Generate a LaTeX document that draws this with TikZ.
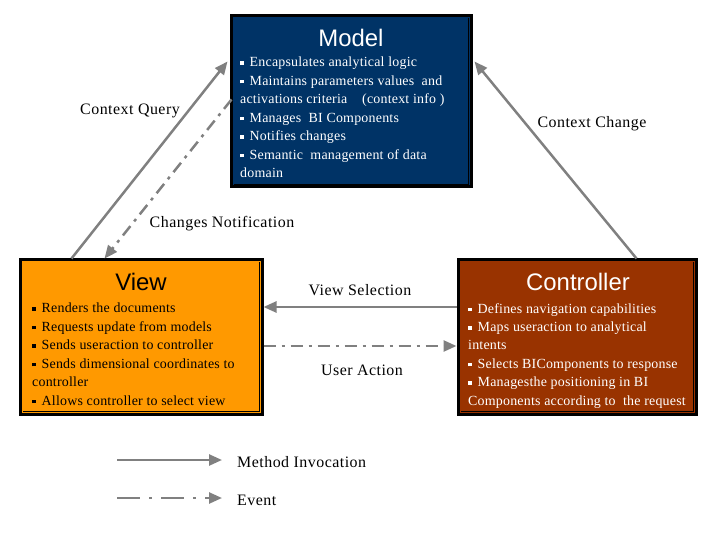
\documentclass[tikz,border=0pt]{standalone}
\usepackage{fontspec}
\setmainfont{Liberation Serif}
\newfontfamily\mvctitlefont{Liberation Sans}
\newfontfamily\mvcbodyfont[LetterSpace=1.5]{Liberation Serif}
\newfontfamily\mvclabelfont[LetterSpace=3]{Liberation Serif}
\usetikzlibrary{arrows.meta}
\definecolor{modelblue}{RGB}{0,51,102}
\definecolor{vieworange}{RGB}{255,153,0}
\definecolor{ctrlbrown}{RGB}{153,51,0}
\definecolor{linkgray}{RGB}{128,128,128}
\newcommand{\mvcbullet}{\rule[0.3ex]{3.5bp}{3.5bp}\hspace{6bp}}
\newcommand{\mvcbodysize}{\mvcbodyfont\fontsize{14}{18.5}\selectfont}
\newcommand{\mvclabelsize}{\mvclabelfont\fontsize{16}{19}\selectfont}
\newcommand{\mvctitlesize}{\fontsize{24}{28}\selectfont}

\begin{document}
\begin{tikzpicture}[x=1bp,y=-1bp,
    mvcbox/.style={draw=black,line width=3bp,inner sep=0},
    mvctitle/.style={font=\mvctitlefont\mvctitlesize,inner sep=0},
    mvcbody/.style={font=\mvcbodysize,align=left,inner sep=0,anchor=north west},
    label/.style={font=\mvclabelsize,inner sep=0},
    invoke/.style={draw=linkgray,line width=2.5bp,-{Triangle[length=13bp,width=11bp]}},
    event/.style={invoke,dash pattern=on 12bp off 6bp on 3bp off 6bp}]
  \useasboundingbox (0,0) rectangle (720,540);
  \node[mvcbox,fill=modelblue,minimum width=240bp,minimum height=171bp] (Model) at (351,101.5) {};
  \node[mvcbox,fill=vieworange,minimum width=241bp,minimum height=154bp] (View) at (141.5,337) {};
  \node[mvcbox,fill=ctrlbrown,minimum width=238bp,minimum height=154bp] (Controller) at (577,337) {};
  \foreach \b in {Model,View,Controller}
    \draw[black,line width=0.8bp] ([shift={(-4,4)}]\b.north east) -- ([shift={(-4,-4)}]\b.south east) -- ([shift={(4,-4)}]\b.south west);
  \node[mvctitle,text=white] (ModelTitle) at (351,38) {Model};
  \node[mvctitle,text=black] (ViewTitle) at (141,282) {View};
  \node[mvctitle,text=white] (ControllerTitle) at (578,282) {Controller};
  \node[mvcbody,text=white] (ModelText) at (240,57) {\mvcbullet Encapsulates analytical logic\\
    \mvcbullet Maintains parameters values\ \ and\\
    activations criteria\ \ \ \ (context info )\\
    \mvcbullet Manages\ \ BI Components\\
    \mvcbullet Notifies changes\\
    \mvcbullet Semantic\ \ management of data\\
    domain};
  \node[mvcbody,text=black] (ViewText) at (32,303) {\mvcbullet Renders the documents\\
    \mvcbullet Requests update from models\\
    \mvcbullet Sends useraction to controller\\
    \mvcbullet Sends dimensional coordinates to\\
    controller\\
    \mvcbullet Allows controller to select view};
  \node[mvcbody,text=white] (ControllerText) at (468,303) {\mvcbullet Defines navigation capabilities\\
    \mvcbullet Maps useraction to analytical\\
    intents\\
    \mvcbullet Selects BIComponents to response\\
    \mvcbullet Managesthe positioning in BI\\
    Components according to\ \ the request};
  \draw[invoke] ([xshift=52bp]View.north west) -- ([shift={(-2,47)}]Model.north west);
  \draw[event] ([shift={(2,85)}]Model.north west) -- ([xshift=85bp]View.north west);
  \draw[invoke] ([xshift=-61bp]Controller.north east) -- ([shift={(2,47)}]Model.north east);
  \draw[invoke] ([yshift=30bp]Controller.west) -- ([yshift=30bp]View.east);
  \draw[event] ([yshift=-9bp]View.east) -- ([yshift=-9bp]Controller.west);
  \node[label] (ContextQuery) at (130,111) {Context Query};
  \node[label] (ChangesNote) at (222,224) {Changes Notification};
  \node[label] (ContextChange) at (592,124) {Context Change};
  \node[label] (ViewSelection) at (360,290) {View Selection};
  \node[label] (UserAction) at (362,370) {User Action};
  \node[label,anchor=west] (MethodInvocation) at (237,462) {Method Invocation};
  \node[label,anchor=west] (Event) at (237,500) {Event};
  \coordinate (invokefrom) at (117,460);
  \coordinate (eventfrom) at (117,498);
  \draw[invoke] (invokefrom) -- ([shift={(-15,-2)}]MethodInvocation.west);
  \draw[event,dash pattern=on 23bp off 9bp on 3bp off 9bp] (eventfrom) -- ([shift={(-15,-2)}]Event.west);
\end{tikzpicture}
\end{document}
